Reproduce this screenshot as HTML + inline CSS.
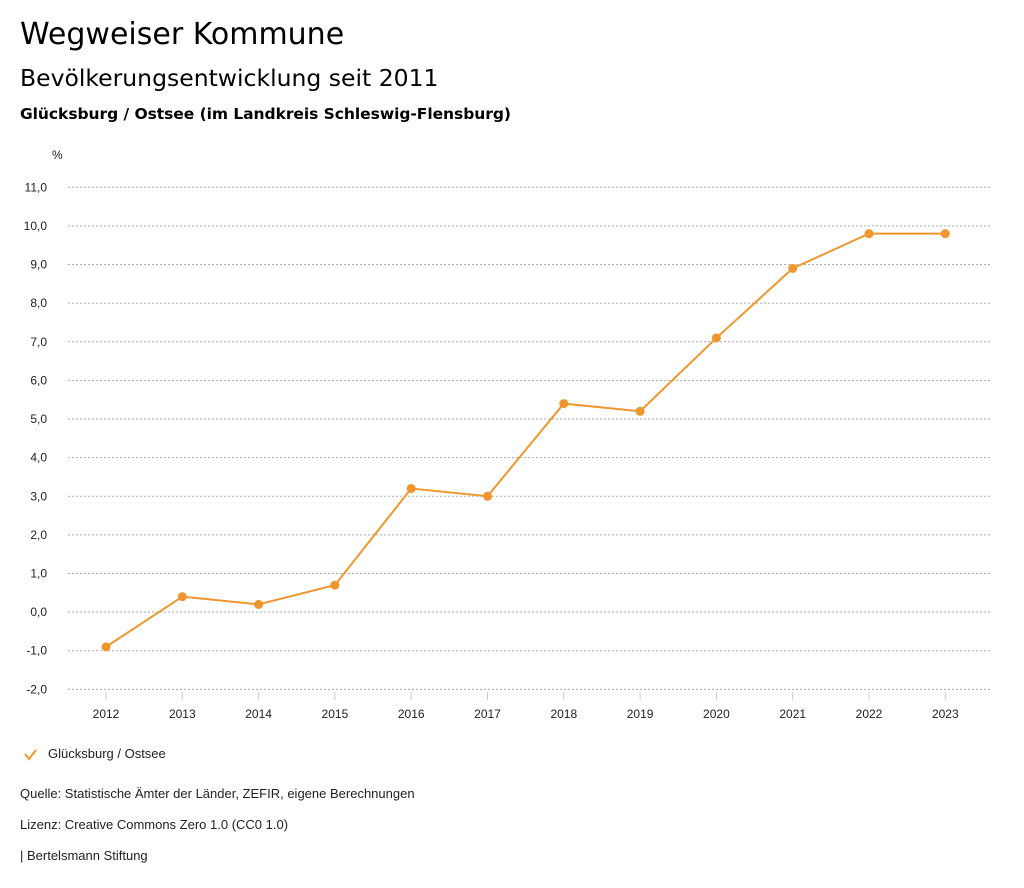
<!DOCTYPE html>
<html><head><meta charset="utf-8"><style>
body{margin:0;background:#fff;font-family:"Liberation Sans",sans-serif;color:#000;}
#wrap{position:relative;width:1024px;height:888px;overflow:hidden;}
.t{position:absolute;white-space:nowrap;}
.dj{font-family:"DejaVu Sans",sans-serif;}
</style></head><body>
<div id="wrap">
<div class="t dj" style="left:20px;top:17px;font-size:30px;">Wegweiser Kommune</div>
<div class="t dj" style="left:20px;top:64px;font-size:23.5px;">Bevölkerungsentwicklung seit 2011</div>
<div class="t dj" style="left:20px;top:105px;font-size:15.5px;font-weight:bold;letter-spacing:-0.05px;">Glücksburg / Ostsee (im Landkreis Schleswig-Flensburg)</div>
<svg id="chart" width="1024" height="888" style="position:absolute;left:0;top:0"></svg>
<div class="t" style="left:48px;top:746px;font-size:13px;color:#222;">Glücksburg / Ostsee</div>
<div class="t" style="left:20px;top:786px;font-size:13px;color:#222;">Quelle: Statistische Ämter der Länder, ZEFIR, eigene Berechnungen</div>
<div class="t" style="left:20px;top:817px;font-size:13px;color:#222;">Lizenz: Creative Commons Zero 1.0 (CC0 1.0)</div>
<div class="t" style="left:20px;top:848px;font-size:13px;color:#222;">| Bertelsmann Stiftung</div>
</div>
<script>
const years=["2012","2013","2014","2015","2016","2017","2018","2019","2020","2021","2022","2023"];
const values=[-0.9,0.4,0.2,0.7,3.2,3.0,5.4,5.2,7.1,8.9,9.8,9.8];
const yTicks=[11,10,9,8,7,6,5,4,3,2,1,0,-1,-2];
const NS="http://www.w3.org/2000/svg";
const svg=document.getElementById('chart');
const y=v=>187.3+(11-v)*38.62;
const x=i=>106+i*76.3;
function mk(tag,attrs){const e=document.createElementNS(NS,tag);for(const k in attrs)e.setAttribute(k,attrs[k]);svg.appendChild(e);return e;}
let u=mk('text',{x:52,y:159,'font-size':12,fill:'#222','font-family':'Liberation Sans, sans-serif'});u.textContent='%';


yTicks.forEach(v=>{
 const g=mk('line',{x1:68,x2:990,y1:y(v),y2:y(v),stroke:'#aaa','stroke-dasharray':'2,2','stroke-width':1});
 
 
 const t=mk('text',{x:47,y:y(v)+4,'text-anchor':'end','font-size':12,fill:'#222','font-family':'Liberation Sans, sans-serif'});
 t.textContent=v.toFixed(1).replace('.',',');
 
 
});
years.forEach((yr,i)=>{
 const tk=mk('line',{x1:x(i),x2:x(i),y1:692,y2:700,stroke:'#ccc'});
 
 
 const t=mk('text',{x:x(i),y:718,'text-anchor':'middle','font-size':12,fill:'#222','font-family':'Liberation Sans, sans-serif'});
 t.textContent=yr;
 
 
});
const p=mk('polyline',{points:values.map((v,i)=>x(i)+','+y(v)).join(' '),fill:'none',stroke:'#f0962e','stroke-width':2});


values.forEach((v,i)=>{
 const c=mk('circle',{cx:x(i),cy:y(v),r:4.5,fill:'#f0962e'});
 
 
});
const chk=mk('polyline',{points:'25,754 29,759 36,750',fill:'none',stroke:'#f0962e','stroke-width':2});


</script>
</body></html>
